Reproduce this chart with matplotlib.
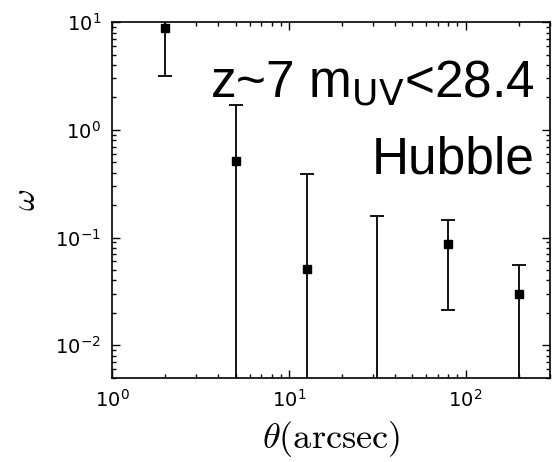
import numpy as np
import matplotlib
matplotlib.use("Agg")
import matplotlib.pyplot as plt

theta = [2.0, 5.02, 12.6, 31.7, 79.6, 200.0]
omega = [8.9, 0.516, 0.0516, -0.02, 0.0875, 0.0301]
err_lo = [5.74, 1.0, 1.0, 1.0, 0.0664, 1.0]
err_hi = [5.0, 1.174, 0.338, 0.18, 0.0595, 0.0257]

xlim = (1, 300)
ylim = (0.005, 10)

plt.rcParams['mathtext.fontset'] = 'dejavusans'
fig = plt.figure(figsize=(5.6, 4.62), dpi=100)
ax = fig.add_axes([0.2, 0.1825, 0.782, 0.7695])
ax.set_xscale('log')
ax.set_yscale('log', nonpositive='clip')
ax.errorbar(theta, omega, yerr=[err_lo, err_hi], fmt='s', color='black',
            ms=6, capsize=5, elinewidth=1.3, capthick=1.3, lw=1.3)
ax.set_xlim(*xlim)
ax.set_ylim(*ylim)
ax.tick_params(which='both', direction='in', top=True, right=True, labelsize=14, pad=8)
ax.tick_params(which='major', length=6, width=1)
ax.tick_params(which='minor', length=3, width=1)
for s in ax.spines.values():
    s.set_linewidth(1.2)
ax.set_xlabel(r'$\theta(\mathrm{arcsec})$', fontsize=26, math_fontfamily='cm', labelpad=6)
ax.set_ylabel(r'$\omega$', fontsize=24, math_fontfamily='cm')
ax.yaxis.set_label_coords(-0.16, 0.5)
ax.text(0.966, 0.789, r'z~7 m$_{\mathrm{UV}}$<28.4', transform=ax.transAxes, ha='right',
        va='baseline', fontsize=37, family='Liberation Sans', math_fontfamily='custom')
ax.text(0.966, 0.575, 'Hubble', transform=ax.transAxes, ha='right', va='baseline',
        fontsize=37, family='Liberation Sans')
fig.savefig('out.png', dpi=100)
